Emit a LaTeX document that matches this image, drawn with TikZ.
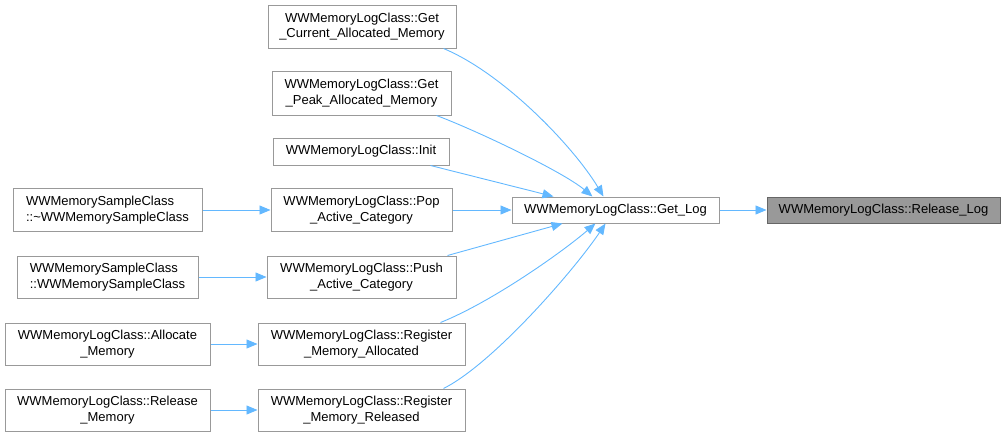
\documentclass[tikz,border=0pt]{standalone}
\usepackage{fontspec}
\setmainfont{Liberation Sans}
\usetikzlibrary{arrows.meta,calc}
\definecolor{edgeblue}{HTML}{63B8FF}
\definecolor{boxgray}{HTML}{999999}
\definecolor{darkgray}{HTML}{666666}
\tikzset{
  fn/.style={draw=boxgray, line width=1pt, fill=white, inner sep=0pt, align=center,
    font=\fontsize{13}{15.5}\selectfont, text=black},
  fnleft/.style={fn, align=left},
  focus/.style={fn, fill=boxgray, draw=darkgray},
  call/.style={draw=edgeblue, line width=0.9pt, -{Triangle[length=11pt,width=9pt]}},
}
\begin{document}
\begin{tikzpicture}[x=1pt,y=-1pt]
\useasboundingbox (0,0) rectangle (1006,437);
\node[fn, minimum width=188pt, minimum height=43pt] (gc) at (362,26.5) {WWMemoryLogClass::Get\\\_Current\_Allocated\_Memory};
\node[fn, minimum width=179pt, minimum height=44pt] (gp) at (361.5,93) {WWMemoryLogClass::Get\\\_Peak\_Allocated\_Memory};
\node[fn, minimum width=176pt, minimum height=27pt] (init) at (361,151.5) {WWMemoryLogClass::Init};
\node[fn, minimum width=181pt, minimum height=43pt] (pop) at (361.5,210) {WWMemoryLogClass::Pop\\\_Active\_Category};
\node[fn, minimum width=189pt, minimum height=42pt] (push) at (361.5,277) {WWMemoryLogClass::Push\\\_Active\_Category};
\node[fn, minimum width=207pt, minimum height=42pt] (ra) at (361.5,344) {WWMemoryLogClass::Register\\\_Memory\_Allocated};
\node[fn, minimum width=207pt, minimum height=42pt] (rr) at (361.5,410) {WWMemoryLogClass::Register\\\_Memory\_Released};
\node[fnleft, minimum width=189pt, minimum height=43pt] (sd) at (107.5,210) {WWMemorySampleClass\\::\textasciitilde WWMemorySampleClass};
\node[fnleft, minimum width=181pt, minimum height=42pt] (sc) at (107.5,277) {WWMemorySampleClass\\::WWMemorySampleClass};
\node[fn, minimum width=205pt, minimum height=42pt] (am) at (107.5,344) {WWMemoryLogClass::Allocate\\\_Memory};
\node[fn, minimum width=205pt, minimum height=42pt] (rm) at (107.5,410) {WWMemoryLogClass::Release\\\_Memory};
\node[fn, minimum width=207pt, minimum height=26pt] (gl) at (615.5,210) {WWMemoryLogClass::Get\_Log};
\node[focus, minimum width=233pt, minimum height=26pt] (rl) at (883.5,210) {WWMemoryLogClass::Release\_Log};

\draw[call] (gl) -- (rl);
\draw[call] (sd) -- (pop);
\draw[call] (sc) -- (push);
\draw[call] (am) -- (ra);
\draw[call] (rm) -- (rr);
\draw[call] (pop) -- (gl);
\draw[call] ($(gc.south east)+(-13,0)$) .. controls +(60,25) and +(-30,-50) .. ($(gl.north)+(-12,0)$);
\draw[call] ($(gp.south east)+(-15,0)$) .. controls +(40,15) and +(-30,-25) .. ($(gl.north)+(-23,0)$);
\draw[call] ($(init.south east)+(-19,0)$) -- ($(gl.north)+(-62,0)$);
\draw[call] ($(push.north east)+(-9,0)$) -- ($(gl.south)+(-53,0)$);
\draw[call] ($(ra.north east)+(-25,0)$) .. controls +(50,-20) and +(-35,30) .. ($(gl.south)+(-20,0)$);
\draw[call] ($(rr.north east)+(-22,0)$) .. controls +(50,-25) and +(-30,45) .. ($(gl.south)+(-10,0)$);
\end{tikzpicture}
\end{document}
